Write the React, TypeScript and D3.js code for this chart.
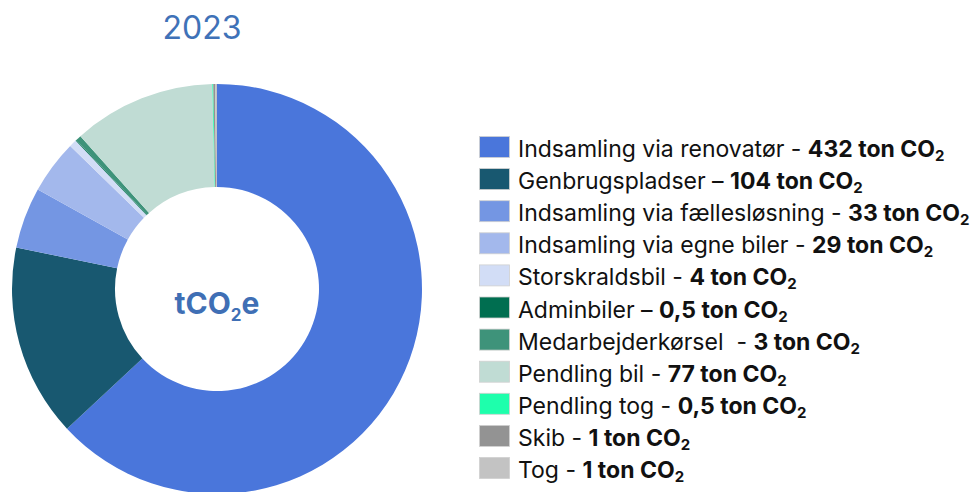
import React, { useRef, useEffect } from "react";
import * as d3 from "d3";

// data
const categories = [
  "Indsamling via renovatør",
  "Genbrugspladser",
  "Indsamling via fællesløsning",
  "Indsamling via egne biler",
  "Storskraldsbil",
  "Adminbiler",
  "Medarbejderkørsel",
  "Pendling bil",
  "Pendling tog",
  "Skib",
  "Tog",
];
const values = [432, 104, 33, 29, 4, 0.5, 3, 77, 0.5, 1, 1];
const valueLabels = ["432", "104", "33", "29", "4", "0,5", "3", "77", "0,5", "1", "1"];
const separators = [" - ", " – ", " - ", " - ", " - ", " – ", "  - ", " - ", " - ", " - ", " - "];
const colors = [
  "#4a76db",
  "#185870",
  "#7496e3",
  "#a3b8ec",
  "#d2ddf6",
  "#006e50",
  "#3e937a",
  "#c0dcd4",
  "#1effac",
  "#939393",
  "#c3c3c3",
];

export default function App() {
  const ref = useRef<HTMLDivElement>(null);

  useEffect(() => {
    document.body.style.margin = "0";
    const width = 978;
    const height = 492;
    const cx = 217;
    const cy = 289;
    const outerR = 205;
    const innerR = 102;

    const svg = d3
      .select(ref.current)
      .html("")
      .append("svg")
      .attr("width", width)
      .attr("height", height)
      .style("display", "block");

    // title
    svg
      .append("text")
      .attr("x", 202)
      .attr("y", 39)
      .attr("text-anchor", "middle")
      .attr("font-family", "Inter, sans-serif")
      .attr("font-size", 32)
      .attr("fill", "#3f72b8")
      .text("2023");

    const pie = d3
      .pie<number>()
      .sort(null)
      .value((d) => d);
    const arc = d3.arc<d3.PieArcDatum<number>>().innerRadius(innerR).outerRadius(outerR);

    const g = svg.append("g").attr("transform", `translate(${cx},${cy})`);
    g.selectAll("path")
      .data(pie(values))
      .enter()
      .append("path")
      .attr("d", arc)
      .attr("fill", (d, i) => colors[i]);

    // center label
    const center = g
      .append("text")
      .attr("y", 25)
      .attr("text-anchor", "middle")
      .attr("font-family", "Inter, sans-serif")
      .attr("font-weight", 700)
      .attr("font-size", 30)
      .attr("fill", "#3f6fb5");
    center.append("tspan").text("tCO");
    center.append("tspan").attr("font-size", 17).attr("dy", 7).text("2");
    center.append("tspan").attr("dy", -7).text("e");

    // legend
    const legend = svg.append("g").attr("transform", "translate(479,136)");
    const rowH = 32.1;
    const rows = legend
      .selectAll("g")
      .data(categories)
      .enter()
      .append("g")
      .attr("transform", (d, i) => `translate(0,${i * rowH})`);

    rows
      .append("rect")
      .attr("x", 0.5)
      .attr("y", 0.5)
      .attr("width", 30)
      .attr("height", 21)
      .attr("fill", (d, i) => colors[i])
      .attr("stroke", "#d0d0d0")
      .attr("stroke-width", 0.8);

    const txt = rows
      .append("text")
      .attr("x", 39)
      .attr("y", 21)
      .attr("font-family", "Inter, sans-serif")
      .attr("font-size", 23)
      .attr("fill", "#111")
      .attr("xml:space", "preserve")
      .style("white-space", "pre");
    txt.append("tspan").text((d, i) => d + separators[i]);
    txt
      .append("tspan")
      .attr("font-weight", 700)
      .text((d, i) => `${valueLabels[i]} ton CO`);
    txt
      .append("tspan")
      .attr("font-weight", 700)
      .attr("font-size", 15)
      .attr("dy", 4)
      .text("2");
  }, []);

  return <div ref={ref}></div>;
}
